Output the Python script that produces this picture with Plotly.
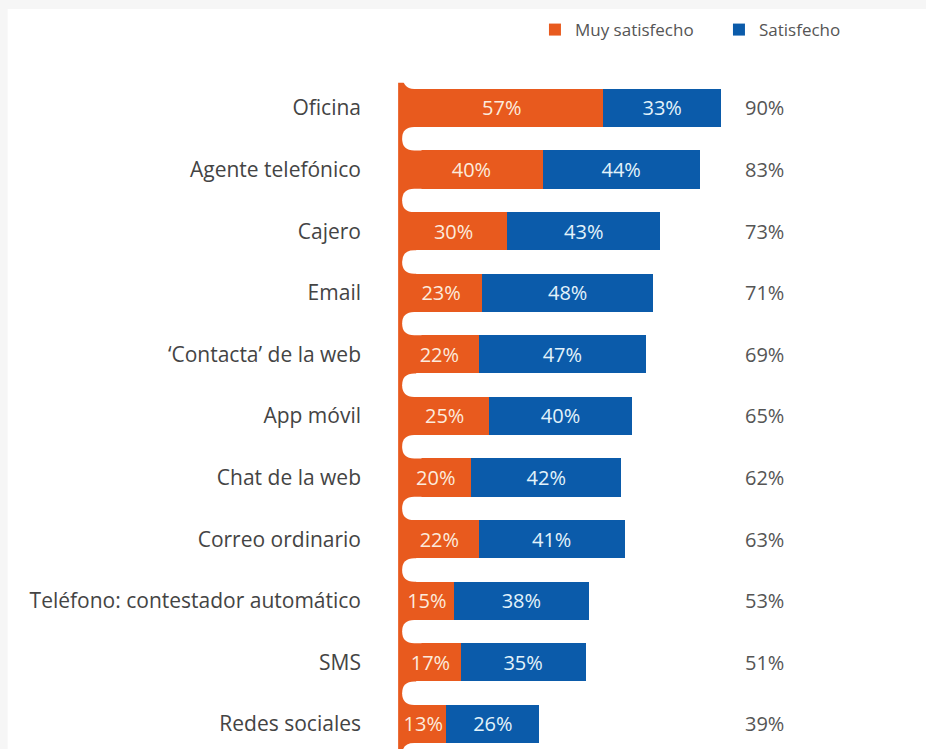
import plotly.graph_objects as go

# Canales de atención y satisfacción declarada (%)
categorias = [
    "Oficina",
    "Agente telefónico",
    "Cajero",
    "Email",
    "‘Contacta’ de la web",
    "App móvil",
    "Chat de la web",
    "Correo ordinario",
    "Teléfono: contestador automático",
    "SMS",
    "Redes sociales",
]
muy_satisfecho = [57, 40, 30, 23, 22, 25, 20, 22, 15, 17, 13]
satisfecho = [33, 44, 43, 48, 47, 40, 42, 41, 38, 35, 26]
total = [90, 83, 73, 71, 69, 65, 62, 63, 53, 51, 39]

NARANJA = "#E85A1E"
AZUL = "#0B5BAA"
FUENTE = "Open Sans, Noto Sans, sans-serif"
TAM = 20

posiciones = list(range(len(categorias)))
ANCHO = 0.62

fig = go.Figure()
fig.add_trace(go.Bar(
    y=posiciones, x=muy_satisfecho, orientation="h", name="Muy satisfecho",
    marker=dict(color=NARANJA, line=dict(width=0)), width=ANCHO,
    texttemplate="%{x}%", textposition="inside", insidetextanchor="middle",
    textfont=dict(color="#FCEBDD", size=TAM, family=FUENTE), textangle=0,
))
fig.add_trace(go.Bar(
    y=posiciones, x=satisfecho, orientation="h", name="Satisfecho",
    marker=dict(color=AZUL, line=dict(width=0)), width=ANCHO,
    texttemplate="%{x}%", textposition="inside", insidetextanchor="middle",
    textfont=dict(color="#E3F3FB", size=TAM, family=FUENTE), textangle=0,
))

# Totales a la derecha de cada barra
for p, t in zip(posiciones, total):
    fig.add_annotation(x=96.3, y=p, text=f"{t}%", showarrow=False,
                       xanchor="left", yanchor="middle",
                       font=dict(size=TAM, color="#555555", family=FUENTE))

shapes = []
# Fondo blanco con el marco gris claro
shapes.append(dict(type="rect", xref="paper", yref="paper",
                   x0=-0.76, x1=1.1, y0=-0.1, y1=1.074,
                   fillcolor="white", line=dict(width=0), layer="below"))

# Franja naranja vertical que une el arranque de las barras
mitad = ANCHO / 2
shapes.append(dict(type="rect", xref="x", yref="y",
                   x0=-0.56, x1=4.5, y0=-mitad - 0.1, y1=len(categorias) + 1,
                   fillcolor=NARANJA, line=dict(width=0), layer="below"))

# Muescas blancas redondeadas entre barras
r = 3.4
xl = 0.56
xe = 6.0
huecos = [(-mitad - 0.5, -mitad)] + [(p + mitad, p + 1 - mitad) for p in posiciones]
for ya, yb in huecos:
    ym = (ya + yb) / 2
    path = (f"M {xe},{ya} L {xl + r},{ya} Q {xl},{ya} {xl},{ym} "
            f"Q {xl},{yb} {xl + r},{yb} L {xe},{yb} Z")
    shapes.append(dict(type="path", xref="x", yref="y", path=path,
                       fillcolor="white", line=dict(width=0), layer="above"))

fig.update_layout(
    width=926, height=749,
    margin=dict(l=393, r=26, t=60, b=0),
    paper_bgcolor="#F6F6F6", plot_bgcolor="rgba(0,0,0,0)",
    barmode="stack", bargap=0.38,
    shapes=shapes,
    font=dict(family=FUENTE, color="#444444"),
    uniformtext=dict(minsize=TAM, mode="show"),
    legend=dict(orientation="h", x=0.28, y=1.0435, xanchor="left",
                yanchor="middle", font=dict(size=17, color="#555555"),
                bgcolor="rgba(0,0,0,0)", itemwidth=30, traceorder="normal",
                entrywidth=139, entrywidthmode="pixels"),
    xaxis=dict(range=[-2, 140.2], visible=False, fixedrange=True),
    yaxis=dict(range=[10.406, -0.779], tickvals=posiciones, ticktext=categorias,
               showgrid=False, zeroline=False, showline=False, ticks="",
               ticklabelstandoff=31, tickfont=dict(size=21, color="#444444"),
               fixedrange=True),
)

fig.write_html("out.html")
